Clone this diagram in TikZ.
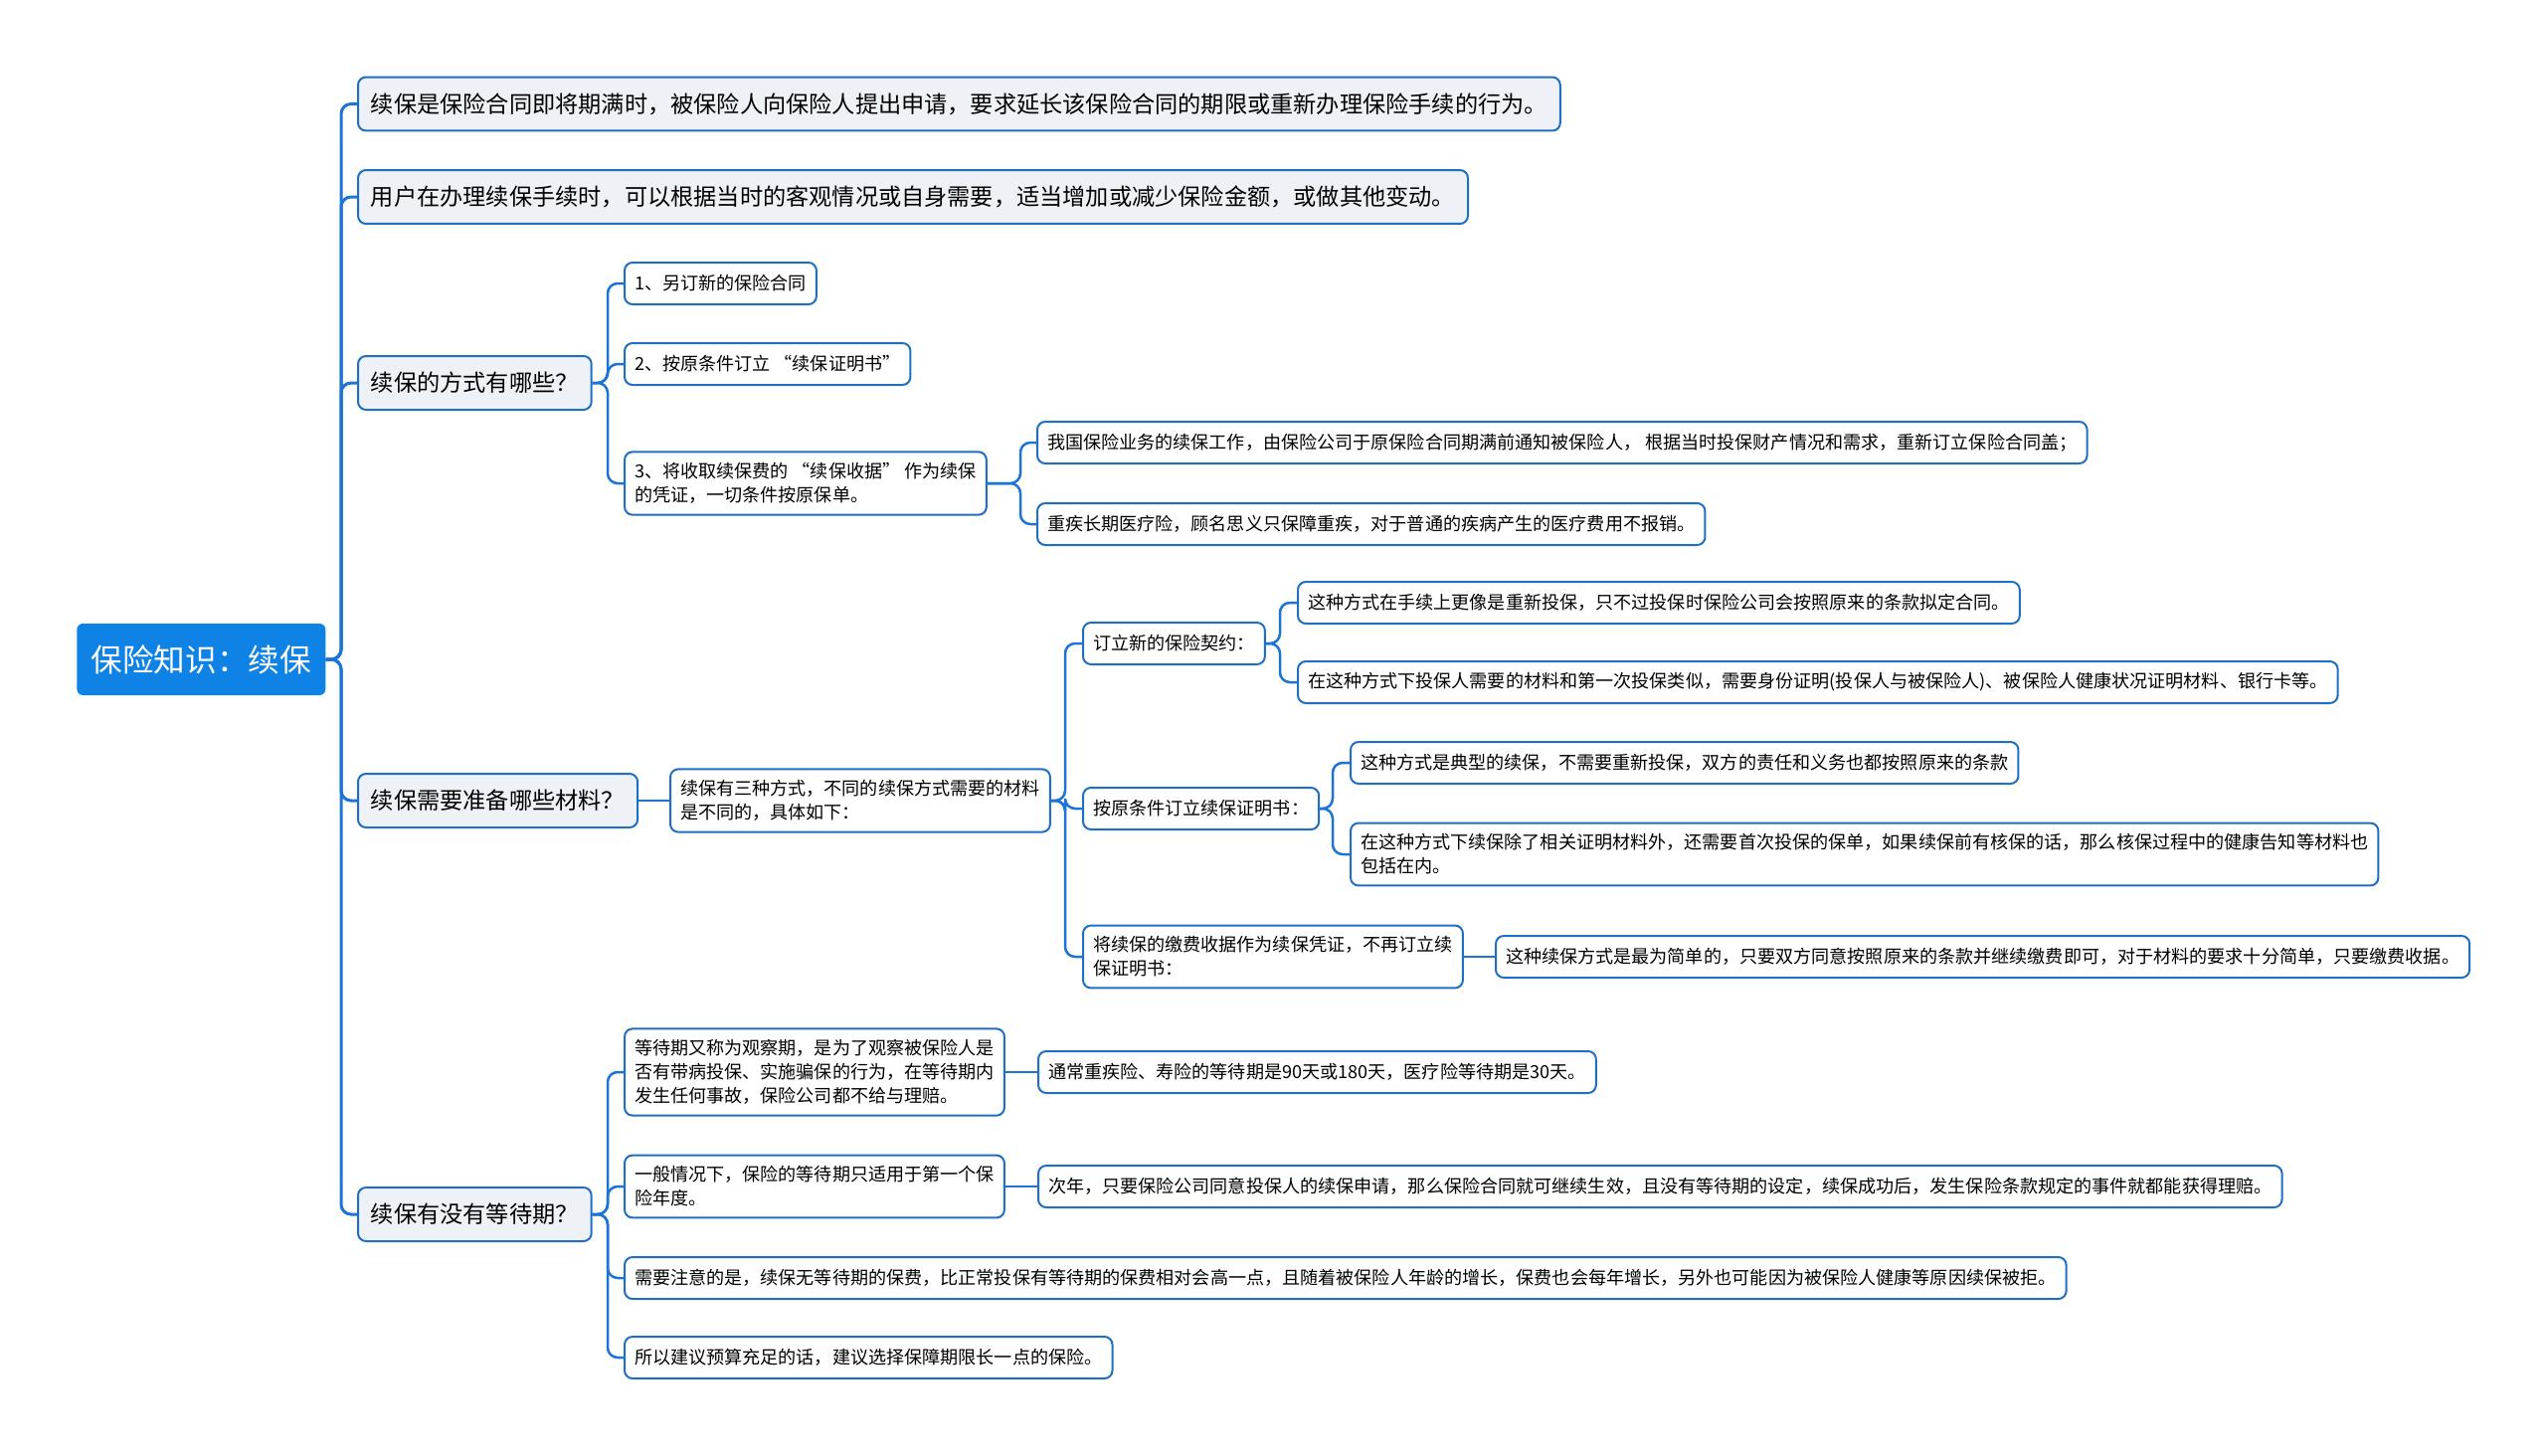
\documentclass[tikz,border=0pt]{standalone}
\usepackage{fontspec}
\setmainfont{Noto Sans CJK SC}
\usepackage{xcolor}
\usepackage{tikz}
\usetikzlibrary{positioning, calc}
\definecolor{rootColor}{RGB}{15, 130, 230}
\definecolor{branchColor}{RGB}{28, 116, 214}
\definecolor{borderColor}{RGB}{31, 111, 197}
\definecolor{topicBackground}{RGB}{238, 242, 246}

\begin{document}
\begin{tikzpicture}[
    x=0.02cm, y=-0.02cm,
    root/.style={rectangle, fill=rootColor, text=white, rounded corners=0.12cm, minimum width=5cm, minimum height=1.44cm, anchor=west, font=\fontsize{18}{22}\selectfont},
    topic/.style={rectangle, draw=borderColor, fill=topicBackground, line width=0.04cm, rounded corners=0.16cm, inner xsep=0.26cm, minimum height=1.08cm, anchor=west, font=\fontsize{13.2}{17}\selectfont},
    leaf/.style={rectangle, draw=borderColor, fill=white, line width=0.04cm, rounded corners=0.16cm, inner xsep=0.2cm, inner ysep=0.22cm, minimum height=0.84cm, align=left, anchor=west, font=\fontsize{10.3}{13.66}\selectfont},
    line/.style={draw=branchColor, line width=0.05cm, rounded corners=0.2cm},
    trunk/.style={line, line width=0.06cm}
]
\useasboundingbox (0,0) rectangle (2560,1464);

% Nodes
\node (root) [root] at (77,663) {保险知识：续保};

\node (define) [topic] at (359,104.5) {续保是保险合同即将期满时，被保险人向保险人提出申请，要求延长该保险合同的期限或重新办理保险手续的行为。};
\node (adjust) [topic] at (359,198) {用户在办理续保手续时，可以根据当时的客观情况或自身需要，适当增加或减少保险金额，或做其他变动。};
\node (ways) [topic] at (359,385) {续保的方式有哪些？};
\node (materials) [topic] at (359,805) {续保需要准备哪些材料？};
\node (waiting) [topic] at (359,1221) {续保有没有等待期？};

\node (way1) [leaf] at (627,285) {1、另订新的保险合同};
\node (way2) [leaf] at (627,366) {2、按原条件订立 “续保证明书”};
\node (way3) [leaf] at (627,486) {3、将收取续保费的 “续保收据” 作为续保\\的凭证，一切条件按原保单。};
\node (way3a) [leaf] at (1042,445) {我国保险业务的续保工作，由保险公司于原保险合同期满前通知被保险人， 根据当时投保财产情况和需求，重新订立保险合同盖；};
\node (way3b) [leaf] at (1042,527) {重疾长期医疗险，顾名思义只保障重疾，对于普通的疾病产生的医疗费用不报销。};

\node (three) [leaf] at (673,805) {续保有三种方式，不同的续保方式需要的材料\\是不同的，具体如下：};
\node (newdeal) [leaf] at (1088,647) {订立新的保险契约：};
\node (newdeal1) [leaf] at (1304,606) {这种方式在手续上更像是重新投保，只不过投保时保险公司会按照原来的条款拟定合同。};
\node (newdeal2) [leaf] at (1304,686) {在这种方式下投保人需要的材料和第一次投保类似，需要身份证明(投保人与被保险人)、被保险人健康状况证明材料、银行卡等。};
\node (proof) [leaf] at (1088,813) {按原条件订立续保证明书：};
\node (proof1) [leaf] at (1357,767) {这种方式是典型的续保，不需要重新投保，双方的责任和义务也都按照原来的条款};
\node (proof2) [leaf] at (1357,859) {在这种方式下续保除了相关证明材料外，还需要首次投保的保单，如果续保前有核保的话，那么核保过程中的健康告知等材料也\\包括在内。};
\node (receipt) [leaf] at (1088,962) {将续保的缴费收据作为续保凭证，不再订立续\\保证明书：};
\node (receipt1) [leaf] at (1503,962) {这种续保方式是最为简单的，只要双方同意按照原来的条款并继续缴费即可，对于材料的要求十分简单，只要缴费收据。};

\node (wait1) [leaf] at (627,1078) {等待期又称为观察期，是为了观察被保险人是\\否有带病投保、实施骗保的行为，在等待期内\\发生任何事故，保险公司都不给与理赔。};
\node (wait1a) [leaf] at (1043,1078) {通常重疾险、寿险的等待期是90天或180天，医疗险等待期是30天。};
\node (wait2) [leaf] at (627,1193) {一般情况下，保险的等待期只适用于第一个保\\险年度。};
\node (wait2a) [leaf] at (1043,1193) {次年，只要保险公司同意投保人的续保申请，那么保险合同就可继续生效，且没有等待期的设定，续保成功后，发生保险条款规定的事件就都能获得理赔。};
\node (wait3) [leaf] at (627,1285) {需要注意的是，续保无等待期的保费，比正常投保有等待期的保费相对会高一点，且随着被保险人年龄的增长，保费也会每年增长，另外也可能因为被保险人健康等原因续保被拒。};
\node (wait4) [leaf] at (627,1365) {所以建议预算充足的话，建议选择保障期限长一点的保险。};

% Connectors
\foreach \k in {define, adjust, ways, materials, waiting}
    \path [trunk] (\k.west) -- ++(-16,0) |- (root.east);
\foreach \k in {way1, way2, way3}
    \path [line] (\k.west) -- ++(-16,0) |- (ways.east);
\foreach \k in {way3a, way3b}
    \path [line] (\k.west) -- ++(-16,0) |- (way3.east);
\path [line] (materials.east) -- (three.west);
\foreach \k in {newdeal, proof, receipt}
    \path [line] (\k.west) -- ++(-17,0) |- (three.east);
\foreach \k in {newdeal1, newdeal2}
    \path [line] (\k.west) -- ++(-17,0) |- (newdeal.east);
\foreach \k in {proof1, proof2}
    \path [line] (\k.west) -- ++(-17,0) |- (proof.east);
\path [line] (receipt.east) -- (receipt1.west);
\foreach \k in {wait1, wait2, wait3, wait4}
    \path [line] (\k.west) -- ++(-16,0) |- (waiting.east);
\path [line] (wait1.east) -- (wait1a.west);
\path [line] (wait2.east) -- (wait2a.west);

\end{tikzpicture}
\end{document}
